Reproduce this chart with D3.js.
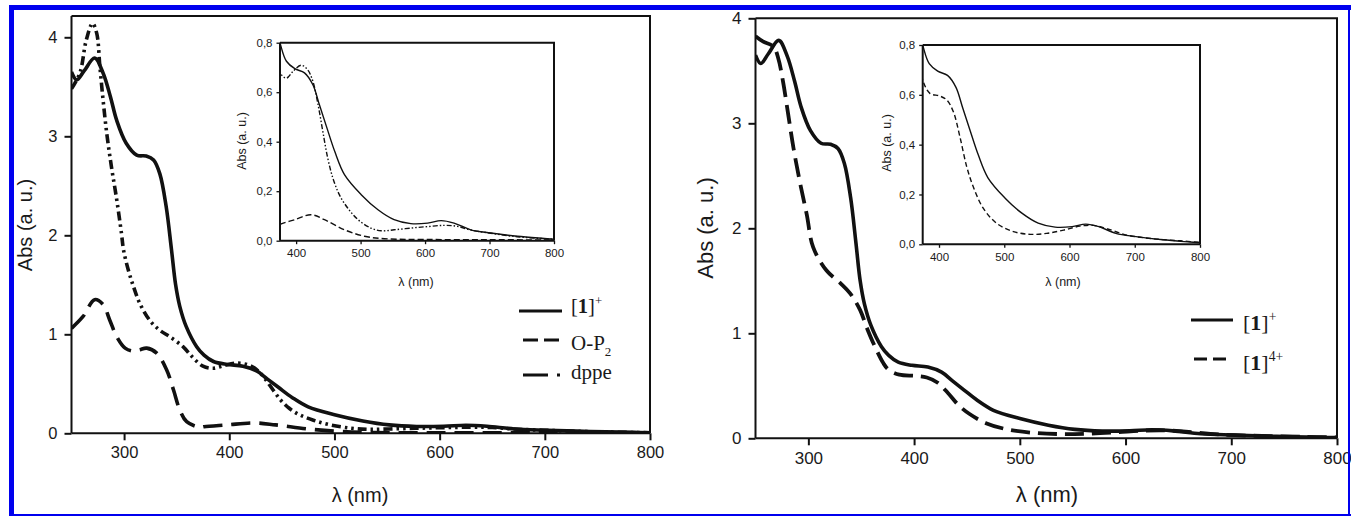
<!DOCTYPE html>
<html><head><meta charset="utf-8">
<script src="https://cdn.jsdelivr.net/npm/d3@7"></script>
<style>
html,body{margin:0;padding:0;background:#fff;}
svg{display:block;}
text{fill:#1a1a1a;}
</style></head>
<body>
<svg id="chart" width="1351" height="516"></svg>
<script>
// ---------- DATA ----------
// [1]+ (solid, both panels)
const lamP1 = [250,255,262,272,280,287,293,302,312,321,328,334,340,345,349,353,359,369,376,385,398,413,426,436,447,460,475,501,527,552,578,604,625,645,671,702,743,785,800];
const absP1 = [3.65,3.57,3.66,3.79,3.64,3.40,3.16,2.93,2.81,2.80,2.76,2.62,2.29,1.86,1.50,1.28,1.08,0.875,0.79,0.725,0.695,0.678,0.63,0.55,0.462,0.36,0.267,0.186,0.125,0.085,0.069,0.071,0.081,0.071,0.044,0.031,0.018,0.009,0.006];
// O-P2 (dashed, left panel)
const lamOP2 = [250,261,272,280,286.5,293,301,309,315,321.5,331,340.5,347,353,359.5,372,376,398,423,444,475,506,537,600,700,800];
const absOP2 = [1.06,1.18,1.35,1.30,1.14,0.976,0.86,0.83,0.845,0.86,0.81,0.64,0.437,0.235,0.117,0.06,0.067,0.085,0.105,0.085,0.044,0.018,0.008,0.005,0.004,0.003];
// dppe (dash-dot-dot, left panel)
const lamDppe = [250,258,264,270,274,277,280,283.5,288,293,297.5,299.5,304,309,315,324.5,334,343.5,356,365,375,385,395,408,418,426,434,441.5,449,457,467,480,496,516,532,552,578,604,630,650,671,702,743,785,800];
const absDppe = [3.48,3.64,3.97,4.14,4.04,3.70,3.37,3.03,2.69,2.36,2.02,1.85,1.65,1.48,1.31,1.14,1.04,0.975,0.875,0.77,0.678,0.657,0.684,0.709,0.69,0.644,0.55,0.44,0.334,0.253,0.186,0.132,0.085,0.051,0.04,0.044,0.051,0.057,0.062,0.058,0.043,0.03,0.016,0.008,0.006];
// [1]4+ (dashed, right panel)
const lamP4 = [250,257,267,271.5,276,281,286,292,298.5,304.5,317,330,339.5,349,355,361.5,371,376,386,401.5,412,422,432,442.5,452.5,468,488.5,514,540,565,591,616,637,657,688,729,770,800];
const absP4 = [3.83,3.78,3.73,3.62,3.40,3.08,2.76,2.44,2.13,1.82,1.60,1.48,1.38,1.22,1.06,0.905,0.714,0.652,0.606,0.595,0.579,0.532,0.432,0.311,0.231,0.144,0.084,0.051,0.04,0.044,0.057,0.073,0.076,0.063,0.037,0.022,0.014,0.008];

const mainXTicks = [300,400,500,600,700,800];
const mainYTicks = [0,1,2,3,4];
const insetXTicks = [400,500,600,700,800];
const insetYTicks = [0,0.2,0.4,0.6,0.8];

const zip = (xs, ys) => xs.map((x,i)=>({x, y: ys[i]}));
const sP1 = zip(lamP1, absP1), sOP2 = zip(lamOP2, absOP2), sDppe = zip(lamDppe, absDppe), sP4 = zip(lamP4, absP4);

const svg = d3.select("#chart");
const SANS = "'Liberation Sans', Arial, Helvetica, sans-serif";
const SERIF = "'Liberation Serif', 'Times New Roman', serif";
let clipId = 0;

function panel(cfg){
  const g = svg.append("g");
  const x = d3.scaleLinear().domain(cfg.xd).range([cfg.x0, cfg.x1]);
  const y = d3.scaleLinear().domain(cfg.yd).range([cfg.y0, cfg.y1]);
  if (cfg.bg) g.append("rect").attr("x",cfg.x0).attr("y",cfg.y1).attr("width",cfg.x1-cfg.x0).attr("height",cfg.y0-cfg.y1).attr("fill","#fff");
  const id = "clip"+(clipId++);
  g.append("clipPath").attr("id",id).append("rect")
    .attr("x",cfg.x0).attr("y",cfg.y1).attr("width",cfg.x1-cfg.x0).attr("height",cfg.y0-cfg.y1);
  const line = d3.line().x(d=>x(d.x)).y(d=>y(d.y)).curve(d3.curveCatmullRom.alpha(0.5));
  const lg = g.append("g").attr("clip-path",`url(#${id})`);
  cfg.series.forEach(s=>{
    lg.append("path").datum(s.data).attr("d",line)
      .attr("fill","none").attr("stroke","#111").attr("stroke-width",s.w)
      .attr("stroke-dasharray", s.dash || null).attr("stroke-linejoin","round");
  });
  // frame
  g.append("path").attr("d",`M${cfg.x0},${cfg.y1}H${cfg.x1}V${cfg.y0}`)
    .attr("fill","none").attr("stroke","#111").attr("stroke-width",cfg.frameW);
  const ax = g.append("g").attr("transform",`translate(0,${cfg.y0})`)
    .call(d3.axisBottom(x).tickValues(cfg.xt).tickSizeInner(cfg.tick).tickSizeOuter(0).tickPadding(cfg.xpad).tickFormat(d3.format("d")));
  const ay = g.append("g").attr("transform",`translate(${cfg.x0},0)`)
    .call(d3.axisLeft(y).tickValues(cfg.yt).tickSizeInner(cfg.tick).tickSizeOuter(0).tickPadding(cfg.ypad).tickFormat(cfg.yfmt));
  [ax,ay].forEach(a=>{
    a.select(".domain").attr("stroke","#111").attr("stroke-width",cfg.frameW);
    a.selectAll(".tick line").attr("stroke","#111").attr("stroke-width",cfg.tickW);
    a.selectAll(".tick text").attr("font-family",SANS).attr("font-size",cfg.fs).attr("fill","#1a1a1a");
  });
  ax.select(".domain").attr("d",`M${cfg.x0},0H${cfg.x1}`);
  ay.select(".domain").attr("d",`M0,${cfg.y0}V${cfg.y1}`);
  // labels
  g.append("text").attr("x",cfg.xlab[0]).attr("y",cfg.xlab[1]).attr("text-anchor","middle")
    .attr("font-family",SANS).attr("font-size",cfg.lfs).text("λ (nm)");
  g.append("text").attr("transform",`translate(${cfg.ylab[0]},${cfg.ylab[1]}) rotate(-90)`)
    .attr("text-anchor","middle").attr("dy","0.35em")
    .attr("font-family",SANS).attr("font-size",cfg.lfs).text("Abs (a. u.)");
  return {x,y};
}
const commaFmt = d => d3.format(".1f")(d).replace(".",",");

// Left main
panel({xd:[250,800], yd:[0,4.215], x0:71.5, x1:650, y0:433.3, y1:16,
  series:[{data:sP1,w:3.6},{data:sOP2,w:3.6,dash:"19,9"},{data:sDppe,w:3.6,dash:"9,4,2.5,4,2.5,4"}],
  xt:mainXTicks, yt:mainYTicks, tick:7, tickW:2, frameW:2, fs:16.5, lfs:20, xpad:6, ypad:7, yfmt:d3.format("d"),
  xlab:[360,502], ylab:[25,225]});
// Left inset
panel({xd:[375,800], yd:[0,0.8], x0:280, x1:554, y0:240.7, y1:42.7, bg:true,
  series:[{data:sP1,w:1.4},{data:sOP2,w:1.4,dash:"6,3"},{data:sDppe,w:1.4,dash:"5,2,1.5,2,1.5,2"}],
  xt:insetXTicks, yt:insetYTicks, tick:3.5, tickW:1.3, frameW:2, fs:11.5, lfs:12.5, xpad:5, ypad:4, yfmt:commaFmt,
  xlab:[416,286], ylab:[242,141]});
// Right main
panel({xd:[250,800], yd:[0,4], x0:755.5, x1:1337, y0:438.3, y1:18.3,
  series:[{data:sP1,w:3.6},{data:sP4,w:3.8,dash:"19,8"}],
  xt:mainXTicks, yt:mainYTicks, tick:7, tickW:2, frameW:2, fs:17, lfs:22, xpad:7, ypad:7, yfmt:d3.format("d"),
  xlab:[1047,502], ylab:[705,228]});
// Right inset
panel({xd:[375,800], yd:[0,0.8], x0:922.7, x1:1200, y0:244.3, y1:45, bg:true,
  series:[{data:sP1,w:1.4},{data:sP4,w:1.4,dash:"5,3"}],
  xt:insetXTicks, yt:insetYTicks, tick:3.5, tickW:1.3, frameW:2, fs:11.5, lfs:12.5, xpad:5, ypad:4, yfmt:commaFmt,
  xlab:[1063,286], ylab:[886.5,143]});

// ---------- Legends ----------
function legLine(x1,x2,y,dash,w){
  svg.append("line").attr("x1",x1).attr("x2",x2).attr("y1",y).attr("y2",y)
    .attr("stroke","#111").attr("stroke-width",w).attr("stroke-dasharray",dash||null);
}
function legText(x,y,fs,parts){
  const t = svg.append("text").attr("x",x).attr("y",y).attr("font-family",SERIF).attr("font-size",fs);
  parts.forEach(p=>{
    const ts = t.append("tspan").text(p.t);
    if(p.b) ts.attr("font-weight","bold");
    if(p.sup){ ts.attr("font-size",fs*0.62).attr("dy",-fs*0.38); }
    if(p.sub){ ts.attr("font-size",fs*0.62).attr("dy",fs*0.3); }
  });
}
legLine(519,562,311,null,3);
legText(571,313,20.5,[{t:"["},{t:"1",b:true},{t:"]"},{t:"+",sup:true}]);
legLine(523,559,340,"15,6",3);
legText(571,350,21,[{t:"O-P"},{t:"2",sub:true}]);
legLine(523,562,375,"25,9,3,20",3);
legText(571,379,21,[{t:"dppe"}]);

legLine(1191,1233,320,null,3);
legText(1243,329.5,22,[{t:"["},{t:"1",b:true},{t:"]"},{t:"+",sup:true}]);
legLine(1194,1229,359,"13,6",3);
legText(1243,369.5,22,[{t:"["},{t:"1",b:true},{t:"]"},{t:"4+",sup:true}]);

// ---------- Blue border ----------
svg.append("rect").attr("x",9).attr("y",5).attr("width",1342).attr("height",5).attr("fill","#0000ee");
svg.append("rect").attr("x",9).attr("y",5).attr("width",5).attr("height",511).attr("fill","#0000ee");
svg.append("rect").attr("x",9).attr("y",514).attr("width",1342).attr("height",2).attr("fill","#0000ee");
svg.append("rect").attr("x",1348).attr("y",5).attr("width",2).attr("height",511).attr("fill","#0000ee");
</script>
</body></html>
